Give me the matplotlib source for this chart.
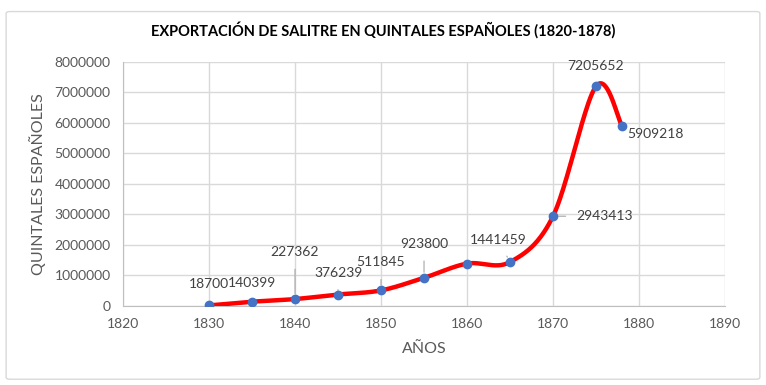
# Exportación de salitre, scatter with smoothed line (Excel style)
import matplotlib
matplotlib.use('Agg')
import matplotlib.pyplot as plt
from matplotlib.patches import FancyBboxPatch
import numpy as np

plt.rcParams['font.family'] = ['Lato', 'DejaVu Sans']

# data
years = [1830, 1835, 1840, 1845, 1850, 1855, 1860, 1865, 1870, 1875, 1878]
quintales = [18700, 140399, 227362, 376239, 511845, 923800, 1390000, 1441459,
             2943413, 7205652, 5909218]
labels = ['18700', '140399', '227362', '376239', '511845', '923800', '',
          '1441459', '2943413', '7205652', '5909218']

# label offsets in pixels (dx, dy) and whether a leader line is drawn
offsets = [(0, 21), (0, 19), (0, 47), (0, 22), (0, 28), (0, 34), (0, 0),
           (-12, 22), (52, 0), (0, 20), (34, -8)]
leaders = [False, False, True, True, True, True, False, True, True, False, False]

grey = '#595959'
fig = plt.figure(figsize=(7.66, 3.85), dpi=100)
fig.patches.append(FancyBboxPatch((0.008, 0.015), 0.984, 0.955,
                                  boxstyle='round,pad=0,rounding_size=0.005',
                                  transform=fig.transFigure, fc='none',
                                  ec='#d9d9d9', lw=1))
ax = fig.add_axes([0.1606, 0.2052, 0.7859, 0.6338])

xmin, xmax, ymax = 1820, 1890, 8000000
ax.set_xlim(xmin, xmax)
ax.set_ylim(0, ymax)

# smooth curve: Catmull-Rom through the points, in pixel-like scale
sx, sy = 602 / (xmax - xmin), 244 / ymax
P = np.column_stack([(np.array(years) - xmin) * sx, np.array(quintales) * sy])
P = np.vstack([P[0], P, P[-1]])
curve = []
t = np.linspace(0, 1, 40)[:, None]
for i in range(1, len(P) - 2):
    p0, p1, p2, p3 = P[i - 1], P[i], P[i + 1], P[i + 2]
    c1 = p1 + (p2 - p0) / 6
    c2 = p2 - (p3 - p1) / 6
    seg = ((1 - t) ** 3 * p1 + 3 * (1 - t) ** 2 * t * c1
           + 3 * (1 - t) * t ** 2 * c2 + t ** 3 * p2)
    curve.append(seg)
curve = np.vstack(curve)
ax.plot(curve[:, 0] / sx + xmin, curve[:, 1] / sy, color='#ff0000', lw=3.2,
        solid_capstyle='round', zorder=3)
ax.plot(years, quintales, 'o', color='#4472c4', ms=6, zorder=4)

for x, y, lab, (dx, dy), lead in zip(years, quintales, labels, offsets, leaders):
    if not lab:
        continue
    kw = {}
    if lead:
        kw['arrowprops'] = dict(arrowstyle='-', color='#a6a6a6', lw=0.8,
                                shrinkA=6, shrinkB=4)
    ax.annotate(lab, (x, y), xytext=(dx, dy), textcoords='offset pixels',
                ha='center', va='center', fontsize=10, color='#404040', **kw)

ax.set_xticks(range(1820, 1891, 10))
ax.set_yticks(range(0, 8000001, 1000000))
ax.set_yticklabels([str(v) for v in range(0, 8000001, 1000000)])
ax.tick_params(length=0, labelsize=10, colors=grey)
ax.tick_params(axis='x', pad=9)
ax.tick_params(axis='y', pad=9)
ax.grid(True, color='#d9d9d9', lw=1)
ax.set_axisbelow(True)
for s in ['top', 'right']:
    ax.spines[s].set_visible(False)
for s in ['left', 'bottom']:
    ax.spines[s].set_color('#bfbfbf')

ax.set_xlabel('AÑOS', fontsize=11.5, color=grey, labelpad=8)
ax.set_ylabel('QUINTALES ESPAÑOLES', fontsize=11.5, color=grey, labelpad=6)
fig.text(0.5, 0.922, 'EXPORTACIÓN DE SALITRE EN QUINTALES ESPAÑOLES (1820-1878)',
         ha='center', va='center', fontsize=10.5, fontweight='bold', color='black')

fig.savefig('out.png', dpi=100)
